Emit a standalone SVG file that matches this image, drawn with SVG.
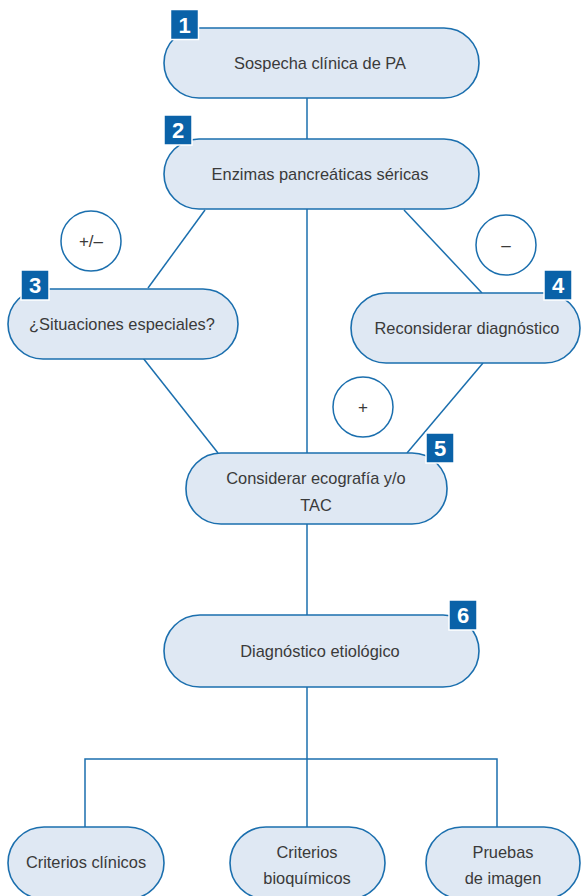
<svg xmlns="http://www.w3.org/2000/svg" width="581" height="896" viewBox="0 0 581 896">
<style>
.node{fill:#dfe8f3;stroke:#1b6fae;stroke-width:1.6}
.lbl{font-family:"Liberation Sans",Arial,sans-serif;font-size:16.4px;fill:#3a3a3a;text-anchor:middle}
.badge{fill:#0a62a8;stroke:#ffffff;stroke-width:1.5}
.bnum{font-family:"Liberation Sans",Arial,sans-serif;font-size:22px;font-weight:bold;fill:#ffffff;text-anchor:middle}
.circ{fill:#ffffff;stroke:#1b6fae;stroke-width:1.5}
.sign{font-family:"Liberation Sans",Arial,sans-serif;font-size:17px;fill:#3a3a3a;text-anchor:middle}
.edge{stroke:#1b6fae;stroke-width:1.5;fill:none}
</style>
<rect width="581" height="896" fill="#ffffff"/>
<g id="connectors">
<line class="edge" x1="307" y1="98" x2="307" y2="139"/>
<line class="edge" x1="205" y1="210" x2="148" y2="288"/>
<line class="edge" x1="404" y1="210" x2="482" y2="293"/>
<line class="edge" x1="307" y1="209" x2="307" y2="453"/>
<line class="edge" x1="143" y1="358" x2="218" y2="453"/>
<line class="edge" x1="483" y1="363" x2="407" y2="453"/>
<line class="edge" x1="307" y1="524" x2="307" y2="615"/>
<line class="edge" x1="307" y1="687" x2="307" y2="827"/>
<polyline class="edge" points="85,827 85,759 497,759 497,827"/>
</g>
<g id="sign-pm"><circle class="circ" cx="91" cy="241" r="30"/><text class="sign" x="91" y="247">+/–</text></g>
<g id="sign-minus"><circle class="circ" cx="506" cy="245" r="30"/><text class="sign" x="506" y="251">–</text></g>
<g id="sign-plus"><circle class="circ" cx="363" cy="407" r="30"/><text class="sign" x="363" y="413">+</text></g>
<g id="n1"><rect class="node" x="164" y="28" width="315" height="70" rx="35"/><text class="lbl" x="320" y="69">Sospecha clínica de PA</text>
<rect class="badge" x="170.5" y="9.5" width="28" height="30"/><text class="bnum" x="184.5" y="32.5">1</text></g>
<g id="n2"><rect class="node" x="164" y="139" width="315" height="70" rx="35"/><text class="lbl" x="320" y="180">Enzimas pancreáticas séricas</text>
<rect class="badge" x="164" y="115" width="28" height="30"/><text class="bnum" x="178" y="138">2</text></g>
<g id="n3"><rect class="node" x="8" y="289" width="230" height="70" rx="35"/><text class="lbl" x="122" y="330">¿Situaciones especiales?</text>
<rect class="badge" x="21" y="270" width="28" height="30"/><text class="bnum" x="35" y="293">3</text></g>
<g id="n4"><rect class="node" x="351" y="293" width="229" height="70" rx="35"/><text class="lbl" x="467" y="334">Reconsiderar diagnóstico</text>
<rect class="badge" x="544" y="270" width="28" height="30"/><text class="bnum" x="558" y="293">4</text></g>
<g id="n5"><rect class="node" x="186" y="453" width="261" height="71" rx="35"/><text class="lbl" x="316" y="484">Considerar ecografía y/o</text><text class="lbl" x="316" y="511">TAC</text>
<rect class="badge" x="426" y="433" width="28" height="30"/><text class="bnum" x="440" y="456">5</text></g>
<g id="n6"><rect class="node" x="164" y="615" width="315" height="72" rx="36"/><text class="lbl" x="320" y="657">Diagnóstico etiológico</text>
<rect class="badge" x="449" y="600" width="28" height="30"/><text class="bnum" x="463" y="623">6</text></g>
<g id="n7"><rect class="node" x="8" y="827" width="156" height="72" rx="36"/><text class="lbl" x="86" y="868">Criterios clínicos</text></g>
<g id="n8"><rect class="node" x="230" y="827" width="155" height="72" rx="36"/><text class="lbl" x="307" y="858">Criterios</text><text class="lbl" x="307" y="884">bioquímicos</text></g>
<g id="n9"><rect class="node" x="426" y="827" width="154" height="72" rx="36"/><text class="lbl" x="503" y="858">Pruebas</text><text class="lbl" x="503" y="884">de imagen</text></g>
</svg>
